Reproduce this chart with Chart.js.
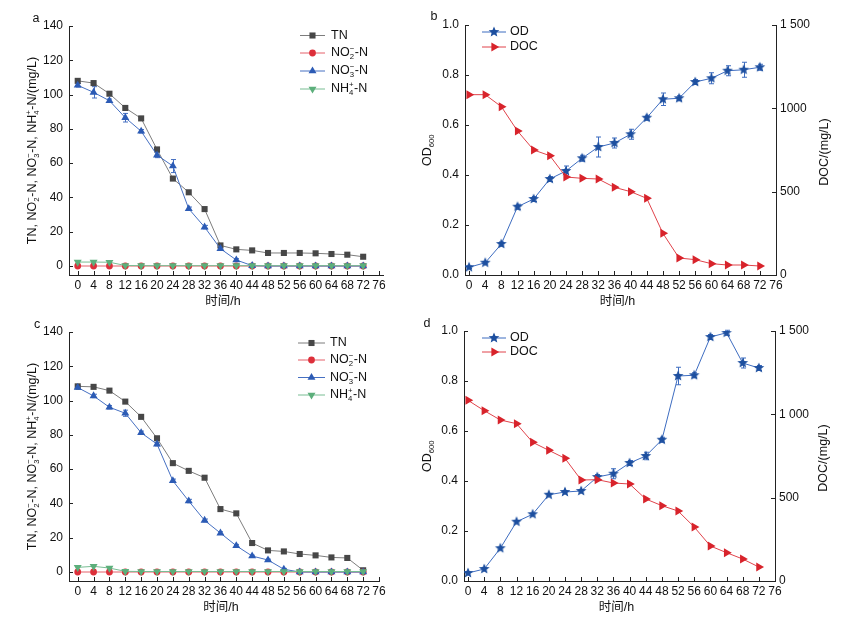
<!DOCTYPE html>
<html>
<head>
<meta charset="utf-8">
<script src="https://cdn.jsdelivr.net/npm/chart.js@4.4.1/dist/chart.umd.min.js"></script>
<style>
  html, body { margin: 0; padding: 0; background: #fff; }
  #wrap { position: relative; width: 844px; height: 628px; }
  canvas { position: absolute; }
</style>
</head>
<body>
<div id="wrap">
  <canvas id="pa" width="422" height="314" style="left:0;top:0"></canvas>
  <canvas id="pb" width="422" height="314" style="left:422px;top:0"></canvas>
  <canvas id="pc" width="422" height="314" style="left:0;top:314px"></canvas>
  <canvas id="pd" width="422" height="314" style="left:422px;top:314px"></canvas>
</div>
<script>
// sampling times (h) and axis ticks
const hours = [0, 4, 8, 12, 16, 20, 24, 28, 32, 36, 40, 44, 48, 52, 56, 60, 64, 68, 72];
const xTickValues = [0, 4, 8, 12, 16, 20, 24, 28, 32, 36, 40, 44, 48, 52, 56, 60, 64, 68, 72, 76];
const nTickValues = [0, 20, 40, 60, 80, 100, 120, 140];
const odTickValues = [0, 0.2, 0.4, 0.6, 0.8, 1.0];
const docTickValues = [0, 500, 1000, 1500];
const docTickLabelsB = ["0", "500", "1000", "1 500"];
const docTickLabelsD = ["0", "500", "1 000", "1 500"];

// panel a
const tnA = [108, 106.7, 100.5, 92.2, 86.1, 68, 51, 43, 33.2, 12, 9.7, 9.1, 7.6, 7.6, 7.6, 7.4, 7, 6.6, 5.4];
const no2A = [0, 0, 0, 0, 0, 0, 0, 0, 0, 0, 0, 0, 0, 0, 0, 0, 0, 0, 0];
const no3A = [105.4, 101.3, 96.4, 86.5, 78.6, 64.7, 58.3, 33.4, 22.7, 10.1, 3.5, 0.2, 0, 0, 0, 0, 0, 0, 0];
const nh4A = [2.3, 2.3, 2.2, 0.3, 0.2, 0.2, 0.2, 0.2, 0.2, 0.2, 0.2, 0.2, 0.2, 0.2, 0.2, 0.2, 0.2, 0.2, 0.2];
const no3ErrA = [1, 3.3, 1, 2.5, 1, 1.5, 3.8, 1, 1, 1, 0.8, 0, 0, 0, 0, 0, 0, 0, 0];

// panel b
const odB = [0.031, 0.049, 0.124, 0.273, 0.304, 0.384, 0.416, 0.467, 0.512, 0.528, 0.563, 0.629, 0.703, 0.707, 0.772, 0.787, 0.817, 0.821, 0.831];
const odErrB = [0.005, 0.005, 0.008, 0.01, 0.01, 0.01, 0.02, 0.012, 0.04, 0.02, 0.02, 0.01, 0.025, 0.01, 0.01, 0.022, 0.02, 0.03, 0.012];
const docB = [1082, 1082, 1010, 864, 750, 716, 588, 580, 576, 526, 500, 460, 250, 102, 92, 68, 60, 60, 54];

// panel c
const tnC = [108.3, 108, 105.8, 99.4, 90.5, 78, 63.5, 59, 55, 36.7, 34.2, 16.9, 12.6, 12, 10.5, 9.7, 8.5, 8.2, 1];
const no2C = [0, 0, 0, 0, 0, 0, 0, 0, 0, 0, 0, 0, 0, 0, 0, 0, 0, 0, 0];
const no3C = [107.6, 102.7, 96.1, 92.6, 81.2, 74.6, 53.2, 41.4, 30.1, 22.7, 15.3, 9.3, 7, 1.6, 0, 0, 0, 0, 0];
const nh4C = [2.7, 3.3, 2.3, 0.4, 0.3, 0.3, 0.3, 0.3, 0.3, 0.3, 0.3, 0.3, 0.3, 0.3, 0.3, 0.3, 0.3, 0.3, 0.3];
const no3ErrC = [1, 1, 1, 1.8, 1, 1, 1, 1, 0.8, 0.8, 0.8, 0.5, 0.5, 0.5, 0, 0, 0, 0, 0];

// panel d
const odD = [0.032, 0.048, 0.131, 0.237, 0.267, 0.345, 0.356, 0.36, 0.416, 0.429, 0.472, 0.5, 0.565, 0.82, 0.823, 0.976, 0.993, 0.872, 0.852];
const odErrD = [0, 0, 0, 0, 0, 0, 0, 0, 0.01, 0.02, 0.01, 0.015, 0.01, 0.035, 0.01, 0.01, 0.01, 0.02, 0.01];
const docD = [1084, 1022, 966, 944, 832, 784, 736, 606, 608, 588, 582, 492, 452, 420, 324, 210, 170, 132, 84];

const FAMILY = '"Liberation Sans", Arial, "Noto Sans CJK SC", sans-serif';
const font = (s) => `${s}px ${FAMILY}`;
Chart.defaults.font.family = FAMILY;
Chart.defaults.font.size = 12;
Chart.defaults.color = "#111";

// filled five-point star used as marker for OD
function starImage(color, r) {
  const c = document.createElement("canvas");
  const s = Math.ceil(r * 2) + 2;
  c.width = c.height = s;
  const g = c.getContext("2d");
  g.fillStyle = color;
  g.beginPath();
  for (let i = 0; i < 10; i++) {
    const rad = i % 2 ? r * 0.45 : r;
    const a = -Math.PI / 2 + (i * Math.PI) / 5;
    g.lineTo(s / 2 + rad * Math.cos(a), s / 2 + rad * Math.sin(a));
  }
  g.closePath();
  g.fill();
  return c;
}

// text with chemical sub/superscripts
function richWidth(ctx, parts, size) {
  let w = 0;
  parts.forEach((p) => {
    if (p.t) { ctx.font = font(size); w += ctx.measureText(p.t).width; }
    else {
      ctx.font = font(size * 0.62);
      w += Math.max(p.sub ? ctx.measureText(p.sub).width : 0, p.sup ? ctx.measureText(p.sup).width : 0) + 0.5;
    }
  });
  return w;
}
function drawRich(ctx, parts, x, y, size) {
  ctx.textBaseline = "middle";
  ctx.textAlign = "left";
  parts.forEach((p) => {
    if (p.t) {
      ctx.font = font(size);
      ctx.fillText(p.t, x, y);
      x += ctx.measureText(p.t).width;
    } else {
      ctx.font = font(size * 0.62);
      let w = 0;
      if (p.sub) { ctx.fillText(p.sub, x, y + size * 0.32); w = ctx.measureText(p.sub).width; }
      if (p.sup) { ctx.fillText(p.sup, x, y - size * 0.36); w = Math.max(w, ctx.measureText(p.sup).width); }
      x += w + 0.5;
    }
  });
}
function drawRotated(ctx, parts, cx, cy, size) {
  ctx.save();
  ctx.translate(cx, cy);
  ctx.rotate(-Math.PI / 2);
  drawRich(ctx, parts, -richWidth(ctx, parts, size) / 2, 0, size);
  ctx.restore();
}

const deco = {
  id: "deco",
  beforeDatasetsDraw(chart) {
    // error bars
    const ctx = chart.ctx;
    chart.data.datasets.forEach((ds, i) => {
      if (!ds.errors) return;
      const meta = chart.getDatasetMeta(i);
      const sc = chart.scales[ds.yAxisID || "y"];
      ctx.save();
      ctx.strokeStyle = ds.borderColor;
      ctx.lineWidth = 1;
      meta.data.forEach((pt, j) => {
        const e = ds.errors[j];
        if (!e) return;
        const v = ds.data[j].y;
        const y1 = sc.getPixelForValue(v + e), y2 = sc.getPixelForValue(v - e);
        const x = Math.round(pt.x) + 0.5;
        ctx.beginPath();
        ctx.moveTo(x, y1); ctx.lineTo(x, y2);
        ctx.moveTo(x - 2.5, y1); ctx.lineTo(x + 2.5, y1);
        ctx.moveTo(x - 2.5, y2); ctx.lineTo(x + 2.5, y2);
        ctx.stroke();
      });
      ctx.restore();
    });
  },
  afterDraw(chart, args, o) {
    const ctx = chart.ctx;
    const area = chart.chartArea;
    const { x, y, y2 } = chart.scales;
    ctx.save();
    // inward tick marks
    ctx.strokeStyle = "#222";
    ctx.lineWidth = 1;
    ctx.beginPath();
    x.ticks.forEach((t) => {
      const px = Math.round(x.getPixelForValue(t.value)) + 0.5;
      ctx.moveTo(px, area.bottom); ctx.lineTo(px, area.bottom - 4);
    });
    y.ticks.forEach((t) => {
      const py = Math.round(y.getPixelForValue(t.value)) + 0.5;
      ctx.moveTo(area.left, py); ctx.lineTo(area.left + 4, py);
    });
    if (y2) {
      y2.ticks.forEach((t) => {
        const py = Math.round(y2.getPixelForValue(t.value)) + 0.5;
        ctx.moveTo(area.right, py); ctx.lineTo(area.right - 4, py);
      });
    }
    ctx.stroke();

    ctx.fillStyle = "#111";
    // panel letter
    ctx.font = font(12.5);
    ctx.textAlign = "center";
    ctx.textBaseline = "middle";
    ctx.fillText(o.letter, o.letterAt[0], o.letterAt[1]);
    // x title
    ctx.fillText("时间/h", (area.left + area.right) / 2 - 3, area.bottom + 27);
    // y titles
    drawRotated(ctx, o.yTitle, o.yTitleX, (area.top + area.bottom) / 2, 12.5);
    if (o.y2Title) drawRotated(ctx, o.y2Title, o.y2TitleX, (area.top + area.bottom) / 2 + 2, 12.5);

    // legend
    const lg = o.legend;
    chart.data.datasets.forEach((ds, i) => {
      const ly = lg.ys[i];
      ctx.strokeStyle = ds.borderColor;
      ctx.lineWidth = 1;
      ctx.beginPath();
      ctx.moveTo(lg.x1, ly); ctx.lineTo(lg.x2, ly);
      ctx.stroke();
      ctx.fillStyle = ds.pointBackgroundColor;
      Chart.helpers.drawPoint(ctx, {
        pointStyle: ds.pointStyle, rotation: ds.pointRotation || 0,
        radius: ds.pointRadius, borderWidth: 0,
      }, (lg.x1 + lg.x2) / 2, ly);
      ctx.fillStyle = "#111";
      drawRich(ctx, ds.parts, lg.tx, ly, 12.5);
    });
    ctx.restore();
  },
};
Chart.register(deco);

const W = 422, H = 314;

function panel({ canvasId, datasets, area, xMin, xMax, yScale, y2Scale, deco }) {
  const scales = {
    x: {
      type: "linear", min: xMin, max: xMax,
      afterBuildTicks: (s) => { s.ticks = xTickValues.map((v) => ({ value: v })); },
      afterFit: (s) => { s.height = H - area.bottom; },
      grid: { display: false, drawTicks: false },
      border: { color: "#222", width: 1 },
      ticks: { autoSkip: false, maxRotation: 0, padding: 3, font: { size: 12 } },
    },
    y: {
      type: "linear", position: "left", min: yScale.min, max: yScale.max,
      afterBuildTicks: (s) => { s.ticks = yScale.values.map((v) => ({ value: v })); },
      afterFit: (s) => { s.width = area.left; },
      grid: { display: false, drawTicks: false },
      border: { color: "#222", width: 1 },
      ticks: { padding: 6, callback: (v, i) => yScale.labels[i] },
    },
  };
  if (y2Scale) {
    scales.y2 = {
      type: "linear", position: "right", min: y2Scale.min, max: y2Scale.max,
      afterBuildTicks: (s) => { s.ticks = y2Scale.values.map((v) => ({ value: v })); },
      afterFit: (s) => { s.width = W - area.right; },
      grid: { display: false, drawTicks: false },
      border: { color: "#222", width: 1 },
      ticks: { padding: 4, callback: (v, i) => y2Scale.labels[i] },
    };
  }
  return new Chart(document.getElementById(canvasId), {
    type: "line",
    data: { datasets },
    options: {
      responsive: false,
      animation: false,
      layout: { padding: { top: area.top, left: 0, bottom: 0, right: y2Scale ? 0 : W - area.right } },
      scales,
      plugins: { legend: { display: false }, tooltip: { enabled: false }, deco },
    },
  });
}

const pts = (arr) => hours.map((h, i) => ({ x: h, y: arr[i] }));

function series(label, parts, values, line, fill, style, radius, extra) {
  return Object.assign({
    label, parts, data: pts(values),
    borderColor: line, borderWidth: 1, pointBackgroundColor: fill, pointBorderWidth: 0,
    pointStyle: style, pointRadius: radius, tension: 0,
  }, extra || {});
}

const partsTN = [{ t: "TN" }];
const partsNO2 = [{ t: "NO" }, { sub: "2", sup: "−" }, { t: "-N" }];
const partsNO3 = [{ t: "NO" }, { sub: "3", sup: "−" }, { t: "-N" }];
const partsNH4 = [{ t: "NH" }, { sub: "4", sup: "+" }, { t: "-N" }];
const nTitle = [{ t: "TN, NO" }, { sub: "2", sup: "−" }, { t: "-N, NO" }, { sub: "3", sup: "−" }, { t: "-N, NH" }, { sub: "4", sup: "+" }, { t: "-N/(mg/L)" }];
const odTitle = [{ t: "OD" }, { sub: "600" }];
const docTitle = [{ t: "DOC/(mg/L)" }];

const starBlue = starImage("#1d4f9f", 5.6);

function nitrogenSets(tn, no2, no3, nh4, no3Err) {
  return [
    series("TN", partsTN, tn, "#7d7d7d", "#474747", "rect", 4.3, { order: 3 }),
    series("NO2", partsNO2, no2, "#e5616a", "#dd2f3a", "circle", 3.4, { order: 2 }),
    series("NO3", partsNO3, no3, "#4670c2", "#2c5bb5", "triangle", 4.6, { order: 1, errors: no3Err }),
    series("NH4", partsNH4, nh4, "#78bd93", "#5caf7b", "triangle", 4.6, { order: 0, pointRotation: 180 }),
  ];
}
function growthSets(od, odErr, doc) {
  return [
    series("OD", [{ t: "OD" }], od, "#3d6cc0", "#1d4f9f", starBlue, 6, { order: 1, errors: odErr }),
    series("DOC", [{ t: "DOC" }], doc, "#e0434b", "#d8232b", "triangle", 5.2, { order: 0, pointRotation: 90, yAxisID: "y2" }),
  ];
}

const nScale = { min: -5.25, max: 140, values: nTickValues, labels: nTickValues.map(String) };
const odScale = { min: 0, max: 1, values: odTickValues, labels: odTickValues.map((v) => v.toFixed(1)) };

panel({
  canvasId: "pa",
  datasets: nitrogenSets(tnA, no2A, no3A, nh4A, no3ErrA),
  area: { left: 69, right: 383, top: 26, bottom: 275 },
  xMin: -2.2, xMax: 77, yScale: nScale,
  deco: { letter: "a", letterAt: [36, 19], yTitle: nTitle, yTitleX: 33,
    legend: { x1: 300, x2: 325, tx: 331, ys: [35.5, 53, 71, 89] } },
});
panel({
  canvasId: "pb",
  datasets: growthSets(odB, odErrB, docB),
  area: { left: 43, right: 354, top: 25, bottom: 275 },
  xMin: -1, xMax: 76, yScale: odScale,
  y2Scale: { min: 0, max: 1500, values: docTickValues, labels: docTickLabelsB },
  deco: { letter: "b", letterAt: [12, 17], yTitle: odTitle, yTitleX: 6, y2Title: docTitle, y2TitleX: 403,
    legend: { x1: 60, x2: 84, tx: 88, ys: [32, 47] } },
});
panel({
  canvasId: "pc",
  datasets: nitrogenSets(tnC, no2C, no3C, nh4C, no3ErrC),
  area: { left: 69, right: 379, top: 18, bottom: 267 },
  xMin: -2.2, xMax: 76, yScale: nScale,
  deco: { letter: "c", letterAt: [37, 11], yTitle: nTitle, yTitleX: 33,
    legend: { x1: 298, x2: 325, tx: 330, ys: [29, 46, 63.5, 81] } },
});
panel({
  canvasId: "pd",
  datasets: growthSets(odD, odErrD, docD),
  area: { left: 42, right: 353, top: 17, bottom: 267 },
  xMin: -1, xMax: 76, yScale: odScale,
  y2Scale: { min: 0, max: 1500, values: docTickValues, labels: docTickLabelsD },
  deco: { letter: "d", letterAt: [5, 10], yTitle: odTitle, yTitleX: 6, y2Title: docTitle, y2TitleX: 402,
    legend: { x1: 60, x2: 84, tx: 88, ys: [24, 38] } },
});
</script>
</body>
</html>
